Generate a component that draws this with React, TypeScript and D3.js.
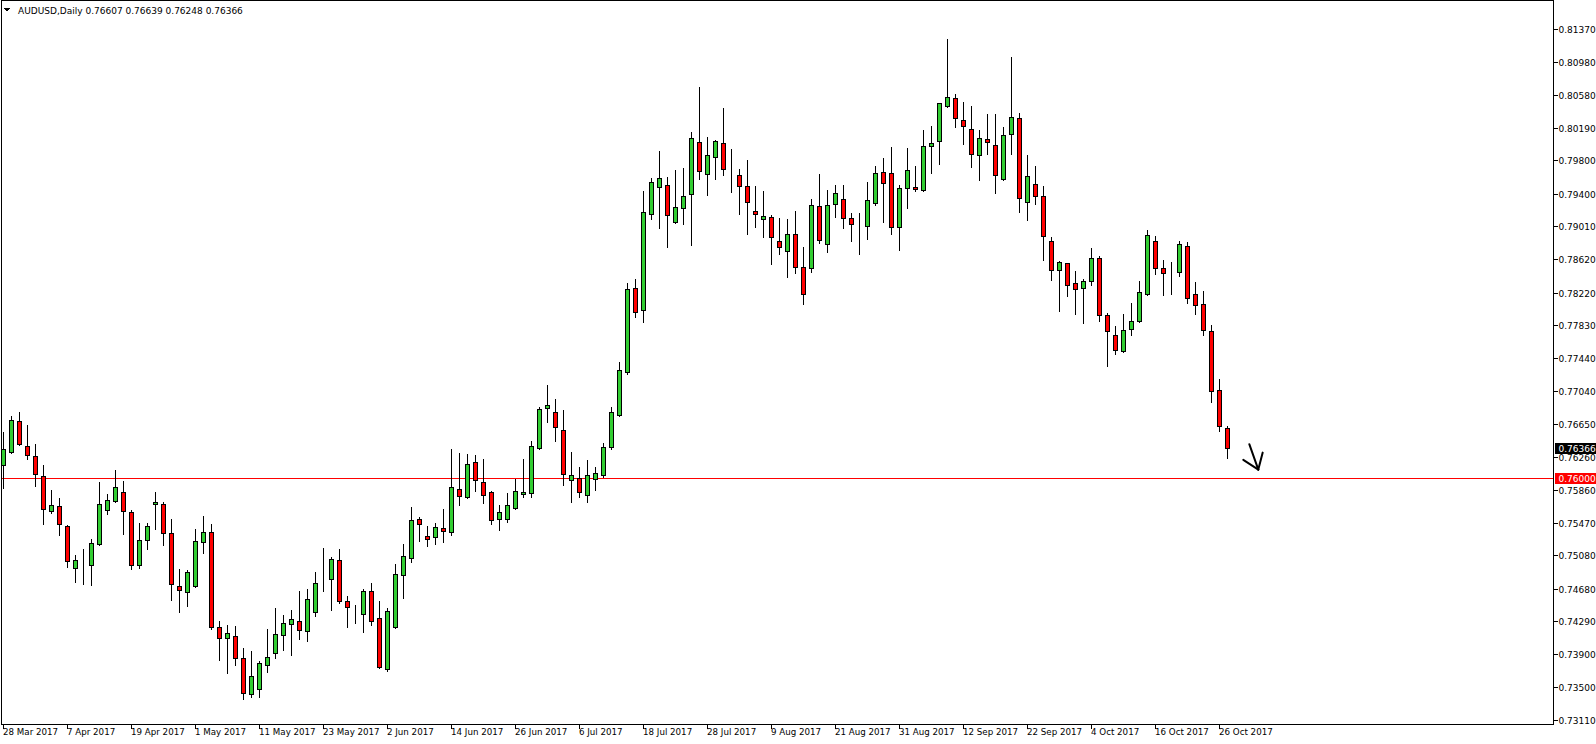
import React from "react";
import * as d3 from "d3";

// Daily AUDUSD candles, 28 Mar 2017 (index 0) .. 27 Oct 2017 (index 153)
const opens = [
  0.76162, 0.76317, 0.76687, 0.76389, 0.76269, 0.76030, 0.75611, 0.75672, 0.75433, 0.74931,
  0.74996, 0.74967, 0.75218, 0.75623, 0.75731, 0.75839, 0.75600, 0.74967, 0.75265, 0.75687,
  0.75696, 0.75349, 0.74715, 0.74644, 0.74715, 0.75241, 0.75361, 0.74225, 0.74094, 0.74118,
  0.73855, 0.73425, 0.73484, 0.73771, 0.73915, 0.74130, 0.74261, 0.74297, 0.74177, 0.74404,
  0.74756, 0.74799, 0.75026, 0.74535, 0.74386, 0.74381, 0.74655, 0.74333, 0.73726, 0.74220,
  0.74847, 0.75050, 0.75516, 0.75313, 0.75301, 0.75409, 0.75361, 0.75875, 0.75779, 0.76197,
  0.75958, 0.75839, 0.75508, 0.75508, 0.75648, 0.75815, 0.75827, 0.76360, 0.76843, 0.76795,
  0.76579, 0.75982, 0.76006, 0.75803, 0.75994, 0.76042, 0.76377, 0.76759, 0.77273, 0.78277,
  0.78014, 0.79162, 0.79484, 0.79508, 0.79066, 0.79233, 0.79401, 0.80022, 0.79640, 0.79843,
  0.80010, 0.79685, 0.79628, 0.79496, 0.79197, 0.79102, 0.79126, 0.78839, 0.78719, 0.78923,
  0.78531, 0.78519, 0.79257, 0.78803, 0.79281, 0.79341, 0.79114, 0.79039, 0.79018, 0.79293,
  0.79664, 0.79652, 0.79006, 0.79472, 0.79484, 0.79448, 0.79974, 0.80034, 0.80452, 0.80548,
  0.80284, 0.80177, 0.79867, 0.80058, 0.79986, 0.79580, 0.80118, 0.80309, 0.79305, 0.79520,
  0.79377, 0.78839, 0.78492, 0.78576, 0.78337, 0.78277, 0.78361, 0.78636, 0.77955, 0.77716,
  0.77524, 0.77787, 0.77882, 0.78206, 0.78839, 0.78516, 0.78462, 0.78469, 0.78779, 0.78206,
  0.78086, 0.77763, 0.77057, 0.76607,
];
const highs = [
  0.76563, 0.76762, 0.76810, 0.76643, 0.76416, 0.76165, 0.75878, 0.75782, 0.75457, 0.75093,
  0.75161, 0.75292, 0.75962, 0.75830, 0.76117, 0.75974, 0.75639, 0.75472, 0.75472, 0.75854,
  0.75723, 0.75528, 0.74931, 0.74919, 0.75409, 0.75564, 0.75469, 0.74308, 0.74261, 0.74249,
  0.73986, 0.73950, 0.73830, 0.74213, 0.74467, 0.74381, 0.74440, 0.74667, 0.74691, 0.74894,
  0.75182, 0.75074, 0.75170, 0.74608, 0.74500, 0.74691, 0.74763, 0.74547, 0.74464, 0.74991,
  0.75230, 0.75672, 0.75552, 0.75445, 0.75481, 0.75648, 0.76365, 0.76317, 0.76305, 0.76293,
  0.76245, 0.75866, 0.75687, 0.75839, 0.75998, 0.76245, 0.76460, 0.76870, 0.77130, 0.76962,
  0.76831, 0.76328, 0.76150, 0.76233, 0.76150, 0.76436, 0.76867, 0.77404, 0.78349, 0.78397,
  0.79448, 0.79604, 0.79918, 0.79616, 0.79691, 0.79726, 0.80153, 0.80683, 0.80094, 0.80058,
  0.80440, 0.79950, 0.79711, 0.79819, 0.79508, 0.79448, 0.79162, 0.79126, 0.79114, 0.79209,
  0.78782, 0.79353, 0.79643, 0.79463, 0.79523, 0.79523, 0.79186, 0.79177, 0.79559, 0.79750,
  0.79846, 0.79977, 0.79520, 0.79965, 0.79750, 0.80180, 0.80225, 0.80503, 0.81268, 0.80608,
  0.80515, 0.80464, 0.80177, 0.80369, 0.80369, 0.80213, 0.81050, 0.80381, 0.79879, 0.79747,
  0.79508, 0.78899, 0.78611, 0.78588, 0.78492, 0.78397, 0.78767, 0.78672, 0.77990, 0.77835,
  0.77979, 0.78109, 0.78372, 0.78982, 0.78911, 0.78624, 0.78599, 0.78850, 0.78839, 0.78361,
  0.78253, 0.77847, 0.77201, 0.76639,
];
const lows = [
  0.75887, 0.76305, 0.76396, 0.76233, 0.75906, 0.75452, 0.75588, 0.75320, 0.74943, 0.74758,
  0.74734, 0.74722, 0.75206, 0.75571, 0.75715, 0.75332, 0.74919, 0.74931, 0.75153, 0.75397,
  0.75206, 0.74543, 0.74400, 0.74471, 0.74705, 0.75110, 0.74201, 0.73826, 0.73676, 0.73766,
  0.73365, 0.73389, 0.73389, 0.73688, 0.73855, 0.73946, 0.73891, 0.74082, 0.74057, 0.74357,
  0.74655, 0.74424, 0.74507, 0.74225, 0.74268, 0.74165, 0.74249, 0.73730, 0.73691, 0.74208,
  0.74567, 0.74998, 0.75253, 0.75194, 0.75218, 0.75241, 0.75325, 0.75684, 0.75762, 0.75850,
  0.75708, 0.75448, 0.75388, 0.75472, 0.75636, 0.75779, 0.75779, 0.76353, 0.76671, 0.76444,
  0.75918, 0.75720, 0.75779, 0.75720, 0.75862, 0.76018, 0.76353, 0.76747, 0.77249, 0.77931,
  0.77871, 0.79097, 0.78989, 0.78762, 0.79049, 0.79037, 0.78786, 0.79580, 0.79384, 0.79580,
  0.79628, 0.79425, 0.79162, 0.78923, 0.79006, 0.78887, 0.78564, 0.78684, 0.78409, 0.78457,
  0.78089, 0.78460, 0.78815, 0.78703, 0.79121, 0.78989, 0.78839, 0.78684, 0.78863, 0.79269,
  0.79066, 0.78923, 0.78731, 0.79233, 0.79436, 0.79436, 0.79647, 0.79754, 0.80440, 0.80196,
  0.79993, 0.79723, 0.79563, 0.79874, 0.79408, 0.79567, 0.79874, 0.79186, 0.79089, 0.79281,
  0.78611, 0.78372, 0.78002, 0.78182, 0.77967, 0.77859, 0.78313, 0.77882, 0.77345, 0.77489,
  0.77512, 0.77716, 0.77871, 0.78194, 0.78445, 0.78194, 0.78206, 0.78421, 0.78098, 0.77967,
  0.77716, 0.76915, 0.76567, 0.76248,
];
const closes = [
  0.76353, 0.76699, 0.76413, 0.76281, 0.76054, 0.75636, 0.75684, 0.75457, 0.75015, 0.75026,
  0.75000, 0.75230, 0.75696, 0.75743, 0.75899, 0.75611, 0.74967, 0.75265, 0.75433, 0.75711,
  0.75349, 0.74739, 0.74667, 0.74883, 0.75253, 0.75361, 0.74225, 0.74094, 0.74154, 0.73855,
  0.73437, 0.73640, 0.73795, 0.73867, 0.74142, 0.74273, 0.74321, 0.74189, 0.74560, 0.74751,
  0.74760, 0.75038, 0.74535, 0.74464, 0.74390, 0.74655, 0.74297, 0.73747, 0.74417, 0.74859,
  0.75074, 0.75504, 0.75457, 0.75277, 0.75421, 0.75373, 0.75899, 0.75791, 0.76174, 0.75982,
  0.75803, 0.75496, 0.75603, 0.75684, 0.75850, 0.75839, 0.76389, 0.76831, 0.76879, 0.76616,
  0.76054, 0.76042, 0.75839, 0.76042, 0.76066, 0.76377, 0.76795, 0.77296, 0.78265, 0.77990,
  0.79186, 0.79544, 0.79592, 0.79150, 0.79245, 0.79377, 0.80070, 0.79675, 0.79867, 0.80034,
  0.79699, 0.79681, 0.79496, 0.79305, 0.79162, 0.79138, 0.78887, 0.78767, 0.78923, 0.78528,
  0.78197, 0.79269, 0.78850, 0.79269, 0.79413, 0.79114, 0.79042, 0.79035, 0.79328, 0.79652,
  0.79532, 0.79006, 0.79472, 0.79687, 0.79460, 0.79974, 0.80010, 0.80488, 0.80560, 0.80309,
  0.80213, 0.79879, 0.80070, 0.80022, 0.79628, 0.80106, 0.80321, 0.79353, 0.79616, 0.79377,
  0.78899, 0.78492, 0.78588, 0.78313, 0.78265, 0.78361, 0.78636, 0.77955, 0.77763, 0.77536,
  0.77775, 0.77882, 0.78229, 0.78911, 0.78516, 0.78457, 0.78466, 0.78803, 0.78158, 0.78074,
  0.77775, 0.77046, 0.76628, 0.76366,
];

const priceTicks = [
  0.8137, 0.8098, 0.8058, 0.8019, 0.798, 0.794, 0.7901, 0.7862, 0.7822, 0.7783, 0.7744,
  0.7704, 0.7665, 0.7626, 0.7586, 0.7547, 0.7508, 0.7468, 0.7429, 0.739, 0.735, 0.7311,
];
const dateTickIndex = [0, 8, 16, 24, 32, 40, 48, 56, 64, 72, 80, 88, 96, 104, 112, 120, 128, 136, 144, 152];
const dateTickLabels = [
  "28 Mar 2017", "7 Apr 2017", "19 Apr 2017", "1 May 2017", "11 May 2017", "23 May 2017",
  "2 Jun 2017", "14 Jun 2017", "26 Jun 2017", "6 Jul 2017", "18 Jul 2017", "28 Jul 2017",
  "9 Aug 2017", "21 Aug 2017", "31 Aug 2017", "12 Sep 2017", "22 Sep 2017", "4 Oct 2017",
  "16 Oct 2017", "26 Oct 2017",
];
const symbolTitle = "AUDUSD,Daily";
const lastBar = [0.76607, 0.76639, 0.76248, 0.76366];
const levelPrice = 0.76;
const arrowTip = { index: 156.85, price: 0.7611 };

const GREEN = "#32CD32";
const RED = "#FF0000";
const FONT = "'DejaVu Sans', Verdana, sans-serif";

export default function App() {
  const W = 1596;
  const H = 744;
  const frameL = 1.5;
  const frameT = 0.5;
  const frameR = 1553.5;
  const frameB = 724.5;

  const y = d3.scaleLinear().domain([0.7311, 0.8137]).range([720.6, 29.5]);
  const x = d3.scaleLinear().domain([0, 1]).range([3.5, 11.5]);
  const crisp = (v: number) => Math.round(v - 0.5) + 0.5;

  const fmt = d3.format(".5f");
  const lastClose = lastBar[3];

  const candles = opens.map((o, i) => {
    const c = closes[i];
    const h = highs[i];
    const l = lows[i];
    const cx = x(i);
    const yTop = crisp(y(Math.max(o, c)));
    const yBot = crisp(y(Math.min(o, c)));
    const up = c >= o;
    return (
      <g key={i}>
        <line x1={cx} x2={cx} y1={crisp(y(h))} y2={crisp(y(l))} stroke="#000" strokeWidth={1} />
        <rect
          x={cx - 2}
          y={yTop}
          width={4}
          height={Math.max(0, yBot - yTop)}
          fill={up ? GREEN : RED}
          stroke="#000"
          strokeWidth={1}
        />
      </g>
    );
  });

  const tipX = x(arrowTip.index);
  const tipY = y(arrowTip.price);

  return (
    <svg
      width={W}
      height={H}
      style={{ position: "absolute", left: 0, top: 0, background: "#fff" }}
      shapeRendering="crispEdges"
    >
      <defs>
        <clipPath id="plot">
          <rect x={frameL + 0.5} y={frameT + 0.5} width={frameR - frameL - 1} height={frameB - frameT - 1} />
        </clipPath>
      </defs>
      <rect x={0} y={0} width={W} height={H} fill="#fff" />

      <g clipPath="url(#plot)">
        <line
          x1={frameL}
          x2={frameR}
          y1={crisp(y(levelPrice))}
          y2={crisp(y(levelPrice))}
          stroke={RED}
          strokeWidth={1}
        />
        {candles}
      </g>

      {/* arrow annotation */}
      <g stroke="#000" strokeWidth={2} fill="none" strokeLinecap="round" shapeRendering="auto">
        <line x1={tipX - 9} y1={tipY - 25.4} x2={tipX} y2={tipY} />
        <line x1={tipX - 15} y1={tipY - 9.7} x2={tipX} y2={tipY} />
        <line x1={tipX + 4.4} y1={tipY - 17} x2={tipX} y2={tipY} />
      </g>

      {/* frame */}
      <rect
        x={frameL}
        y={frameT}
        width={frameR - frameL}
        height={frameB - frameT}
        fill="none"
        stroke="#000"
        strokeWidth={1}
      />

      {/* header */}
      <path d="M4,8 L10,8 L7,11.5 Z" fill="#000" />
      <text x={18} y={14} fontFamily={FONT} fontSize={9} fill="#000">
        {symbolTitle + "  " + lastBar.map((v) => fmt(v)).join(" ")}
      </text>

      {/* price axis */}
      {priceTicks.map((p, i) => {
        const ty = crisp(y(p));
        return (
          <g key={"p" + i}>
            <line x1={frameR} x2={frameR + 4} y1={ty} y2={ty} stroke="#000" />
            <text x={frameR + 5} y={ty + 3.5} fontFamily={FONT} fontSize={9} fill="#000">
              {fmt(p)}
            </text>
          </g>
        );
      })}

      {/* level label */}
      <rect x={frameR + 1} y={crisp(y(levelPrice)) - 5.5} width={W - frameR} height={11} fill={RED} />
      <text x={frameR + 5} y={crisp(y(levelPrice)) + 3.5} fontFamily={FONT} fontSize={9} fill="#fff">
        {fmt(levelPrice)}
      </text>
      {/* last price label */}
      <rect x={frameR + 1} y={crisp(y(lastClose)) - 5.5} width={W - frameR} height={11} fill="#000" />
      <text x={frameR + 5} y={crisp(y(lastClose)) + 3.5} fontFamily={FONT} fontSize={9} fill="#fff">
        {fmt(lastClose)}
      </text>

      {/* time axis */}
      {dateTickIndex.map((idx, i) => {
        const tx = x(idx);
        return (
          <g key={"d" + i}>
            <line x1={tx} x2={tx} y1={frameB} y2={frameB + 4} stroke="#000" />
            <text x={tx - 0.5} y={735} fontFamily={FONT} fontSize={8.7} fill="#000">
              {dateTickLabels[i]}
            </text>
          </g>
        );
      })}
    </svg>
  );
}
